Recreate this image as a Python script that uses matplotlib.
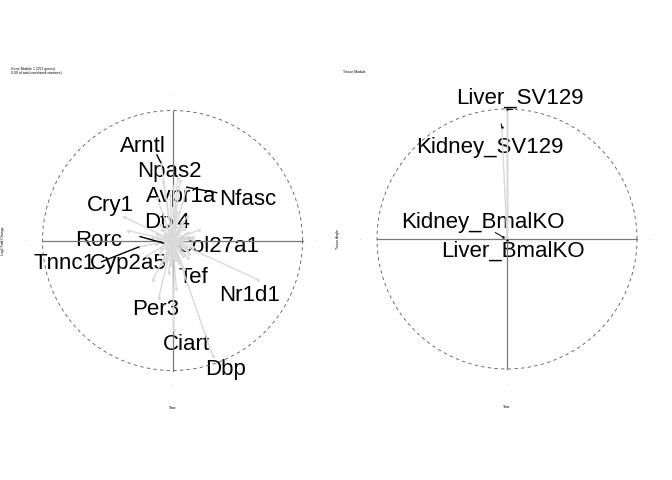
import numpy as np
import matplotlib
matplotlib.use("Agg")
import matplotlib.pyplot as plt

plt.rcParams['font.family'] = ['Liberation Sans', 'DejaVu Sans']

# ---- left panel: gene loadings ----
genes = ['Arntl', 'Npas2', 'Avpr1a', 'Nfasc', 'Cry1', 'Dtx4', 'Rorc', 'Col27a1',
         'Tnnc1', 'Cyp2a5', 'Tef', 'Nr1d1', 'Per3', 'Ciart', 'Dbp']
gene_x = [-0.09, 0.04, -0.02, 0.11, -0.37, -0.05, -0.07, 0.06,
          -0.26, -0.05, 0.08, 0.655, -0.106, 0.01, 0.31]
gene_y = [0.60, 0.48, 0.35, 0.41, 0.18, 0.12, -0.02, -0.02,
          -0.05, -0.06, -0.12, -0.30, -0.44, -0.69, -0.89]
# label anchor (centre x, baseline y)
lab_x = [-0.225, -0.023, 0.064, 0.578, -0.475, -0.045, -0.568, 0.354,
         -0.827, -0.337, 0.16, 0.596, -0.132, 0.109, 0.408]
lab_y = [0.683, 0.491, 0.298, 0.273, 0.227, 0.094, -0.04, -0.091,
         -0.222, -0.222, -0.325, -0.463, -0.573, -0.842, -1.035]
# genes whose label sits away from the point get a leader
leaders = {'Arntl': (-0.12, 0.658), 'Nfasc': (0.34, 0.368),
           'Rorc': (-0.25, 0.03), 'Tnnc1': (-0.545, -0.163)}

# unlabeled genes
other_x = [0.05, 0.08, -0.04, 0.10, -0.09, 0.03, 0.12, -0.06, 0.07, -0.11,
           0.02, 0.09, -0.03, 0.14, -0.08, 0.06, 0.00, -0.13, 0.11, 0.04,
           -0.05, 0.13, -0.02, 0.08, -0.10, 0.05, 0.15, -0.07, 0.01, 0.10,
           -0.12, 0.06, 0.03, -0.04, 0.09, 0.16, -0.09, 0.02, 0.07, -0.06,
           -0.15, 0.03, 0.11, -0.34, 0.16, 0.12, -0.07, 0.0, 0.06, -0.12,
           -0.20, 0.20, -0.03, 0.04, -0.16, 0.09, 0.13, -0.01, 0.05, -0.08]
other_y = [0.07, -0.04, 0.10, 0.02, -0.06, -0.11, 0.06, 0.04, -0.09, 0.01,
           0.13, 0.09, -0.08, -0.02, 0.08, 0.11, -0.13, -0.03, -0.07, 0.05,
           -0.12, 0.03, 0.06, -0.12, -0.10, -0.06, 0.01, -0.01, 0.09, -0.05,
           0.05, 0.00, -0.15, -0.14, 0.12, -0.05, 0.12, -0.02, 0.14, -0.16,
           -0.30, -0.375, 0.18, 0.075, 0.03, -0.135, 0.45, 0.42, 0.46, 0.33,
           -0.12, 0.08, -0.25, 0.22, 0.02, -0.22, -0.10, -0.19, -0.17, -0.18]

# ---- right panel: tissue loadings ----
samples = ['Liver_SV129', 'Kidney_SV129', 'Kidney_BmalKO', 'Liver_BmalKO']
samp_x = [0.0, -0.04, -0.03, 0.0]
samp_y = [1.0, 0.86, 0.015, -0.01]
samp_lab_x = [0.096, -0.135, -0.188, 0.046]
samp_lab_y = [1.038, 0.664, 0.082, -0.136]
samp_leaders = {'Liver_SV129': (0.035, 1.0), 'Kidney_SV129': (-0.045, 0.885),
                'Kidney_BmalKO': (-0.09, 0.05)}

LINE = '#d9d9d9'
fig = plt.figure(figsize=(6.72, 4.8), dpi=100)
axL = fig.add_axes([16.5 / 672, 1 - 396.5 / 480, 312 / 672, 312 / 480])
axR = fig.add_axes([351 / 672, 1 - 395 / 480, 312 / 672, 312 / 480])


def frame(ax, xlabel, ylabel):
    ax.set_xlim(-1.2, 1.2)
    ax.set_ylim(-1.2, 1.2)
    ax.axis('off')
    t = np.linspace(0, 2 * np.pi, 300)
    ax.plot(np.cos(t), np.sin(t), ls=(0, (4, 4)), color='#555555', lw=0.6, zorder=4)
    ax.plot([-1, 1], [0, 0], color='#777777', lw=0.9, zorder=4)
    ax.plot([0, 0], [-1, 1], color='#777777', lw=0.9, zorder=4)
    for (x, y) in [(0, 1.125), (0, -1.12), (-1.127, 0), (1.10, 0)]:
        ax.text(x, y, '-', fontsize=2.5, color='#666666', ha='center', va='center')
    ax.text(0, -1.29, xlabel, fontsize=2.5, ha='center', va='center', clip_on=False)
    ax.text(-1.30, 0, ylabel, fontsize=2.5, ha='center', va='center',
            rotation=90, clip_on=False)


frame(axL, 'Time', 'Log2 Fold Change')
frame(axR, 'Time', 'Tissue Angle')

# left: vectors
for x, y in zip(other_x + gene_x, other_y + gene_y):
    axL.plot([0, x], [0, y], color=LINE, lw=1.0, zorder=4)
axL.scatter(other_x + gene_x, other_y + gene_y, s=5, color=LINE, zorder=4, lw=0)
for g, (sx, sy) in leaders.items():
    i = genes.index(g)
    axL.plot([sx, gene_x[i]], [sy, gene_y[i]], color='black', lw=1.0, zorder=5)
for g, x, y in zip(genes, lab_x, lab_y):
    axL.text(x, y, g, fontsize=16, ha='center', va='baseline', zorder=3)

# right: vectors
for x, y in zip(samp_x, samp_y):
    axR.plot([0, x], [0, y], color=LINE, lw=1.0, zorder=4)
axR.scatter(samp_x, samp_y, s=3, color='black', zorder=5, lw=0)
for s, (sx, sy) in samp_leaders.items():
    i = samples.index(s)
    axR.plot([sx, samp_x[i]], [sy, samp_y[i]], color='black', lw=0.7, zorder=5)
for s, x, y in zip(samples, samp_lab_x, samp_lab_y):
    axR.text(x, y, s, fontsize=16, ha='center', va='baseline', zorder=3)

fig.text(11 / 672, 1 - 71 / 480, 'Gene Module 1 (252 genes)\n0.00 of total correlated variance)',
         fontsize=2.5, ha='left', va='center', linespacing=1.0)
fig.text(343 / 672, 1 - 72 / 480, 'Tissue Module', fontsize=2.5, ha='left', va='center')

fig.savefig('out.png', dpi=100, facecolor='white')
